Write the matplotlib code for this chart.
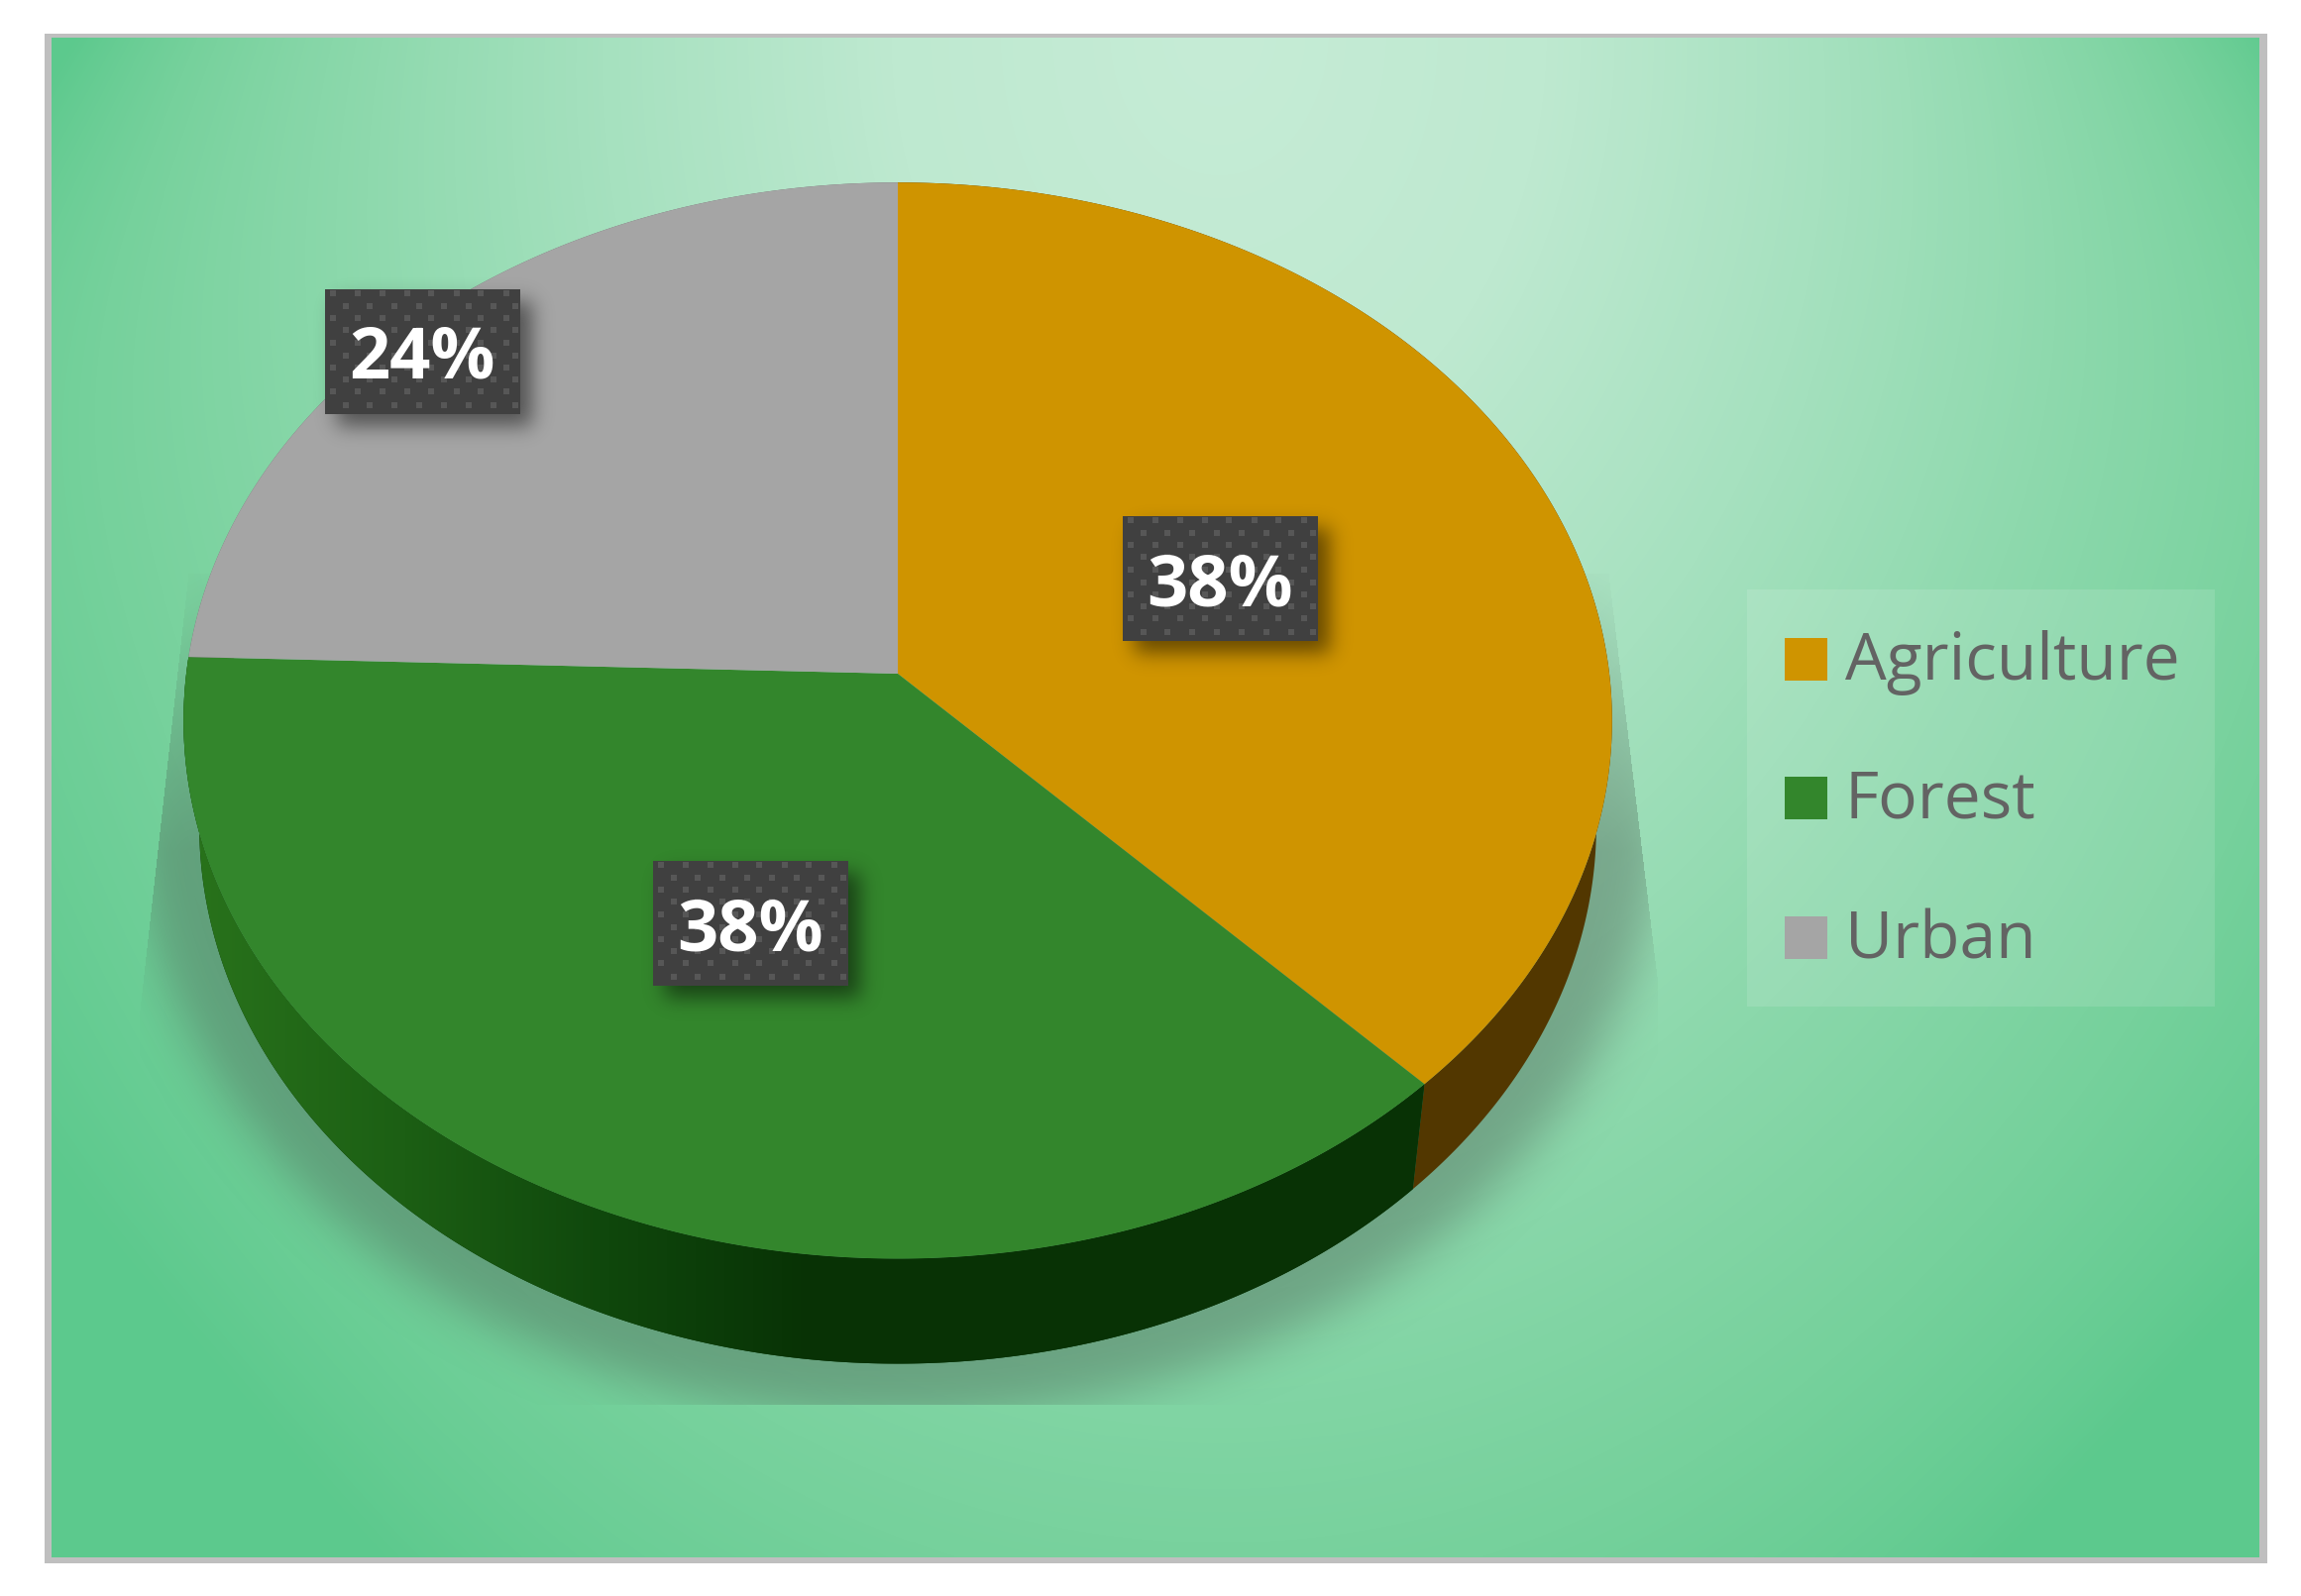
import numpy as np
import matplotlib
matplotlib.use('Agg')
import matplotlib.pyplot as plt
from matplotlib.colors import LinearSegmentedColormap, to_rgb
from matplotlib.patches import Rectangle

categories = ['Agriculture', 'Forest', 'Urban']
shares = [37.8, 37.7, 24.5]
top_colors = ['#CF9400', '#33862C', '#A5A5A5']
side_colors = ['#523700', '#083205', '#6A6A6A']
label_boxes = [(1133, 521), (659, 869), (328, 292)]  # left, top of each data label

W, H = 2322, 1611
fig = plt.figure(figsize=(W / 100, H / 100), dpi=100, facecolor='white')
ax = fig.add_axes([0, 0, 1, 1])
ax.axis('off')

yy, xx = np.mgrid[0:H, 0:W]


def blur(a, sigma):
    fy = np.fft.fftfreq(a.shape[0])[:, None]
    fx = np.fft.rfftfreq(a.shape[1])[None, :]
    g = np.exp(-2 * (np.pi * sigma) ** 2 * (fx ** 2 + fy ** 2))
    return np.fft.irfft2(np.fft.rfft2(a) * g, s=a.shape)


# frame
ax.add_patch(Rectangle((45, 34), 2243, 1544, fc='#BFBFBF', ec='none', zorder=0))

# background gradient, light spot near the top
stops = [(0, '#C6ECD6'), (.22, '#BEE9D0'), (.42, '#A6E1BF'), (.62, '#8BD8AB'),
         (.8, '#76D19C'), (1, '#5CC98D')]
bg_cmap = LinearSegmentedColormap.from_list('bg', stops)
d = np.sqrt(((xx - 1230) / 1130) ** 2 + ((yy - 30) / 1500) ** 2)
corner = (np.abs(xx - 1166) / 1114) ** 6 * (np.abs(yy - 805) / 767) ** 4
bg = np.clip(d * .76 + corner * .25, 0, 1)
bg_im = ax.imshow(bg, cmap=bg_cmap, vmin=0, vmax=1, extent=(0, W, H, 0), zorder=1, aspect='auto')
bg_rect = Rectangle((52, 38), 2228, 1534, transform=ax.transData, fc='none', ec='none')
ax.add_patch(bg_rect)
bg_im.set_clip_path(bg_rect)

# shadow under the pie
m = (((xx - 906) / 770) ** 2 + ((yy - 810) / 620) ** 2 < 1).astype(float)
m = blur(m, 24)
left_edge = 190 + (yy - 579) * (141 - 190) / (1020 - 579)
right_edge = 1623 + (yy - 579) * (1672 - 1623) / (986 - 579)
m[(xx < np.maximum(left_edge, 141)) | (xx > np.minimum(right_edge, 1672)) | (yy > 1417) | (yy < 579)] = 0
m *= np.clip((yy - 579) / 280, 0, 1) * .92 + .08
shadow = np.zeros((H, W, 4))
shadow[..., :3] = to_rgb('#4A5F52')
shadow[..., 3] = m * .42
ax.imshow(shadow, extent=(0, W, H, 0), zorder=2, aspect='auto')

# pie with slight perspective, the disc centre sits above the middle of the ellipse
cx, apex_y, rx, k, a_y = 906, 680, 718, .0872, 539
depth, bottom_scale = 106, .978


def rim(theta, scale=1.0, dy=0.0):
    u, v = np.sin(theta), np.cos(theta)
    w = 1 + k * v
    return cx + scale * rx * u / w, apex_y + dy - a_y * v / w


edges = np.cumsum([0] + shares) / sum(shares) * 2 * np.pi
for i in [2, 0, 1]:
    th = np.linspace(edges[i], edges[i + 1], 300)
    x1, y1 = rim(th)
    x2, y2 = rim(th[::-1], bottom_scale, depth)
    poly = ax.fill(np.r_[x1, x2], np.r_[y1, y2], color=side_colors[i], lw=0, zorder=3)[0]
    if categories[i] == 'Forest':
        # side of the forest slice darkens towards the front
        grad = np.clip((np.arange(W)[None, :] - 200) / 620, 0, 1)
        side_cmap = LinearSegmentedColormap.from_list('side', ['#28721B', '#1C5F14', '#0F470C', '#083205'])
        im = ax.imshow(grad, cmap=side_cmap, vmin=0, vmax=1, extent=(0, W, H, 0), zorder=3.1, aspect='auto')
        im.set_clip_path(poly)

for i in range(len(shares)):
    th = np.linspace(edges[i], edges[i + 1], 300)
    x1, y1 = rim(th)
    ax.fill(np.r_[cx, x1], np.r_[apex_y, y1], color=top_colors[i], lw=0, zorder=4)

# data labels
bw, bh = 197, 126
sm = np.zeros((H, W))
for bx, by in label_boxes:
    sm[by + 12:by + bh + 12, bx + 12:bx + bw + 12] = 1
sm = blur(sm, 10)
box_shadow = np.zeros((H, W, 4))
box_shadow[..., 3] = sm * .5
ax.imshow(box_shadow, extent=(0, W, H, 0), zorder=5, aspect='auto')

row_y = [4, 17, 29, 41, 54, 67, 79, 91, 103, 117]
odd_x = [8, 33, 58, 83, 107, 133, 157, 183]
even_x = [21, 45, 70, 95, 120, 145, 170, 192]
for share, (bx, by) in zip(shares, label_boxes):
    ax.add_patch(Rectangle((bx, by), bw, bh, fc='#404040', ec='none', zorder=6))
    for r, ry in enumerate(row_y):
        for dx in (odd_x if r % 2 == 0 else even_x):
            ax.add_patch(Rectangle((bx + dx - 3, by + ry - 3), 6, 6, fc='#575757', ec='none', zorder=6.1))
    ax.text(bx + bw / 2, by + 90, f'{round(share)}%', color='white', fontsize=52, fontweight='bold',
            family='Open Sans', ha='center', va='baseline', zorder=7)

# legend
ax.add_patch(Rectangle((1763, 595), 472, 421, fc='white', alpha=.12, ec='none', zorder=5))
legend_y = [665, 805, 946]
for name, col, ly in zip(categories, top_colors, legend_y):
    ax.add_patch(Rectangle((1801, ly - 21.5), 43, 43, fc=col, ec='none', zorder=6))
    ax.text(1862, ly + 21, name, color='#636363', fontsize=47.5, family='Open Sans',
            ha='left', va='baseline', zorder=6)

ax.set_xlim(0, W)
ax.set_ylim(H, 0)
fig.savefig('out.png', dpi=100, facecolor='white')
